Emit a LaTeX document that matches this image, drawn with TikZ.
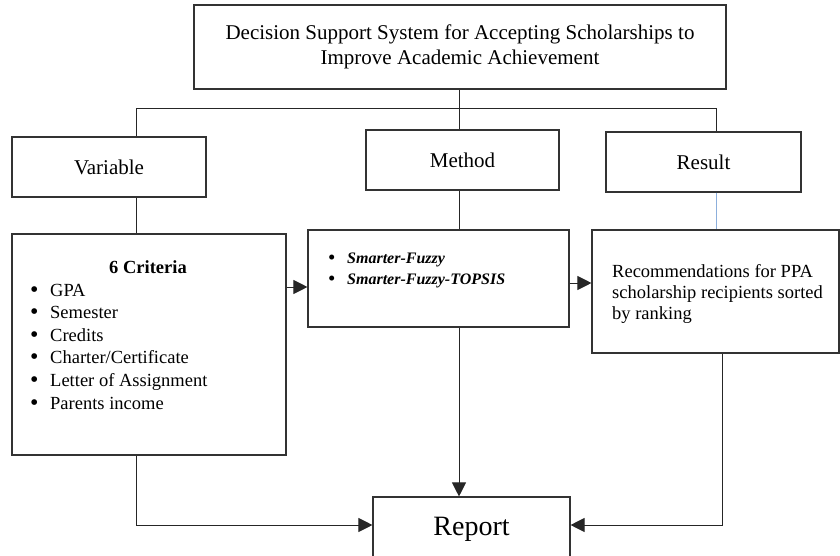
\documentclass[tikz,border=0pt]{standalone}
\usepackage{fontspec}
\setmainfont{Liberation Serif}
\usetikzlibrary{arrows.meta}
\usetikzlibrary{calc}
\usepackage{xcolor}
\definecolor{linkblue}{RGB}{140,175,220}
\tikzset{
	box/.style={draw=black!80, line width=1.1pt, rectangle, inner sep=0pt},
	line/.style={draw=black!85, line width=1pt},
	arr/.style={line, -{Triangle[length=14pt,width=14pt]}},
	head/.style={font=\fontsize{21}{25}\selectfont},
	body/.style={font=\fontsize{18.5}{21}\selectfont, inner sep=0pt},
	meth/.style={font=\fontsize{16}{20}\selectfont\bfseries\itshape, inner sep=0pt}
}
\newcommand{\block}[7][] % options, name, x1, y1, x2, y2 (in px), text
{
	\node[box, #1, minimum width={(#5-#3)*1pt}, minimum height={(#6-#4)*1pt}]
		(#2) at ({(#3+#5)/2},{(#4+#6)/2}) {#7};
}
\newcommand{\bigdot}[1]{\raisebox{-1pt}{\fontsize{#1}{#1}\selectfont\normalfont\textbullet}}
\begin{document}
\begin{tikzpicture}[x=1pt, y=-1pt]
	% 840 x 556 px, y downwards
	\useasboundingbox (0,0) rectangle (840,556);
	\clip (0,0) rectangle (840,556);
	% boxes
	\block[head, align=center]{title}{194}{5}{726}{89}{Decision Support System for Accepting Scholarships to\\Improve Academic Achievement};
	\block[head]{variable}{12}{137}{206}{197}{Variable};
	\block[head]{method}{366}{130}{559}{190}{Method};
	\block[head]{result}{606}{132}{801}{192}{Result};
	\block{criteria}{12}{234}{286}{455}{};
	\block{methods}{308}{230}{569}{327}{};
	\block{rec}{592}{230}{839}{353}{};
	\block[font=\fontsize{28}{30}\selectfont]{report}{373}{497}{570}{561}{Report};
	
	% criteria list
	\node[body, anchor=base] (crittitle) at (148,273) {\bfseries 6 Criteria};
	\foreach \txt [count=\i] in {GPA, Semester, Credits, Charter/Certificate, Letter of Assignment, Parents income}
		\node[body, anchor=base west] (crit\i) at (30,{296+22.6*(\i-1)}) {\makebox[20pt][l]{\bigdot{24}}\txt};
	
	% method list
	\foreach \txt [count=\i] in {Smarter-Fuzzy, Smarter-Fuzzy-TOPSIS}
		\node[meth, anchor=base west] (meth\i) at (328,{263+21*(\i-1)}) {\makebox[19pt][l]{\bigdot{21}}\txt};
	
	% result text
	\node[body, anchor=north west, align=left] (rectext) at (612,264) {Recommendations for PPA\\scholarship recipients sorted\\by ranking};
	
	% connector positions
	\coordinate (split) at (459,109);
	\coordinate (lft) at (136,109);
	\coordinate (rgt) at (716,109);
	\coordinate (rgtb) at (722,0);
	\coordinate (rowa) at (0,287);
	\coordinate (rowb) at (0,283);
	\coordinate (rowc) at (0,525);
	
	% tree lines
	\draw[line] (title.south -| split) -- (method.north -| split);
	\draw[line] (variable.north -| lft) -- (lft) -- (rgt) -- (result.north -| rgt);
	\draw[line] (variable.south -| lft) -- (criteria.north -| lft);
	\draw[line] (method.south -| split) -- (methods.north -| split);
	\draw[line, draw=linkblue] (result.south -| rgt) -- (rec.north -| rgt);
	
	% arrows
	\draw[arr] (criteria.east |- rowa) -- (methods.west |- rowa);
	\draw[arr] (methods.east |- rowb) -- (rec.west |- rowb);
	\draw[arr] (methods.south -| split) -- (report.north -| split);
	\draw[arr] (criteria.south -| lft) |- (report.west |- rowc);
	\draw[arr] (rec.south -| rgtb) |- (report.east |- rowc);
\end{tikzpicture}
\end{document}
